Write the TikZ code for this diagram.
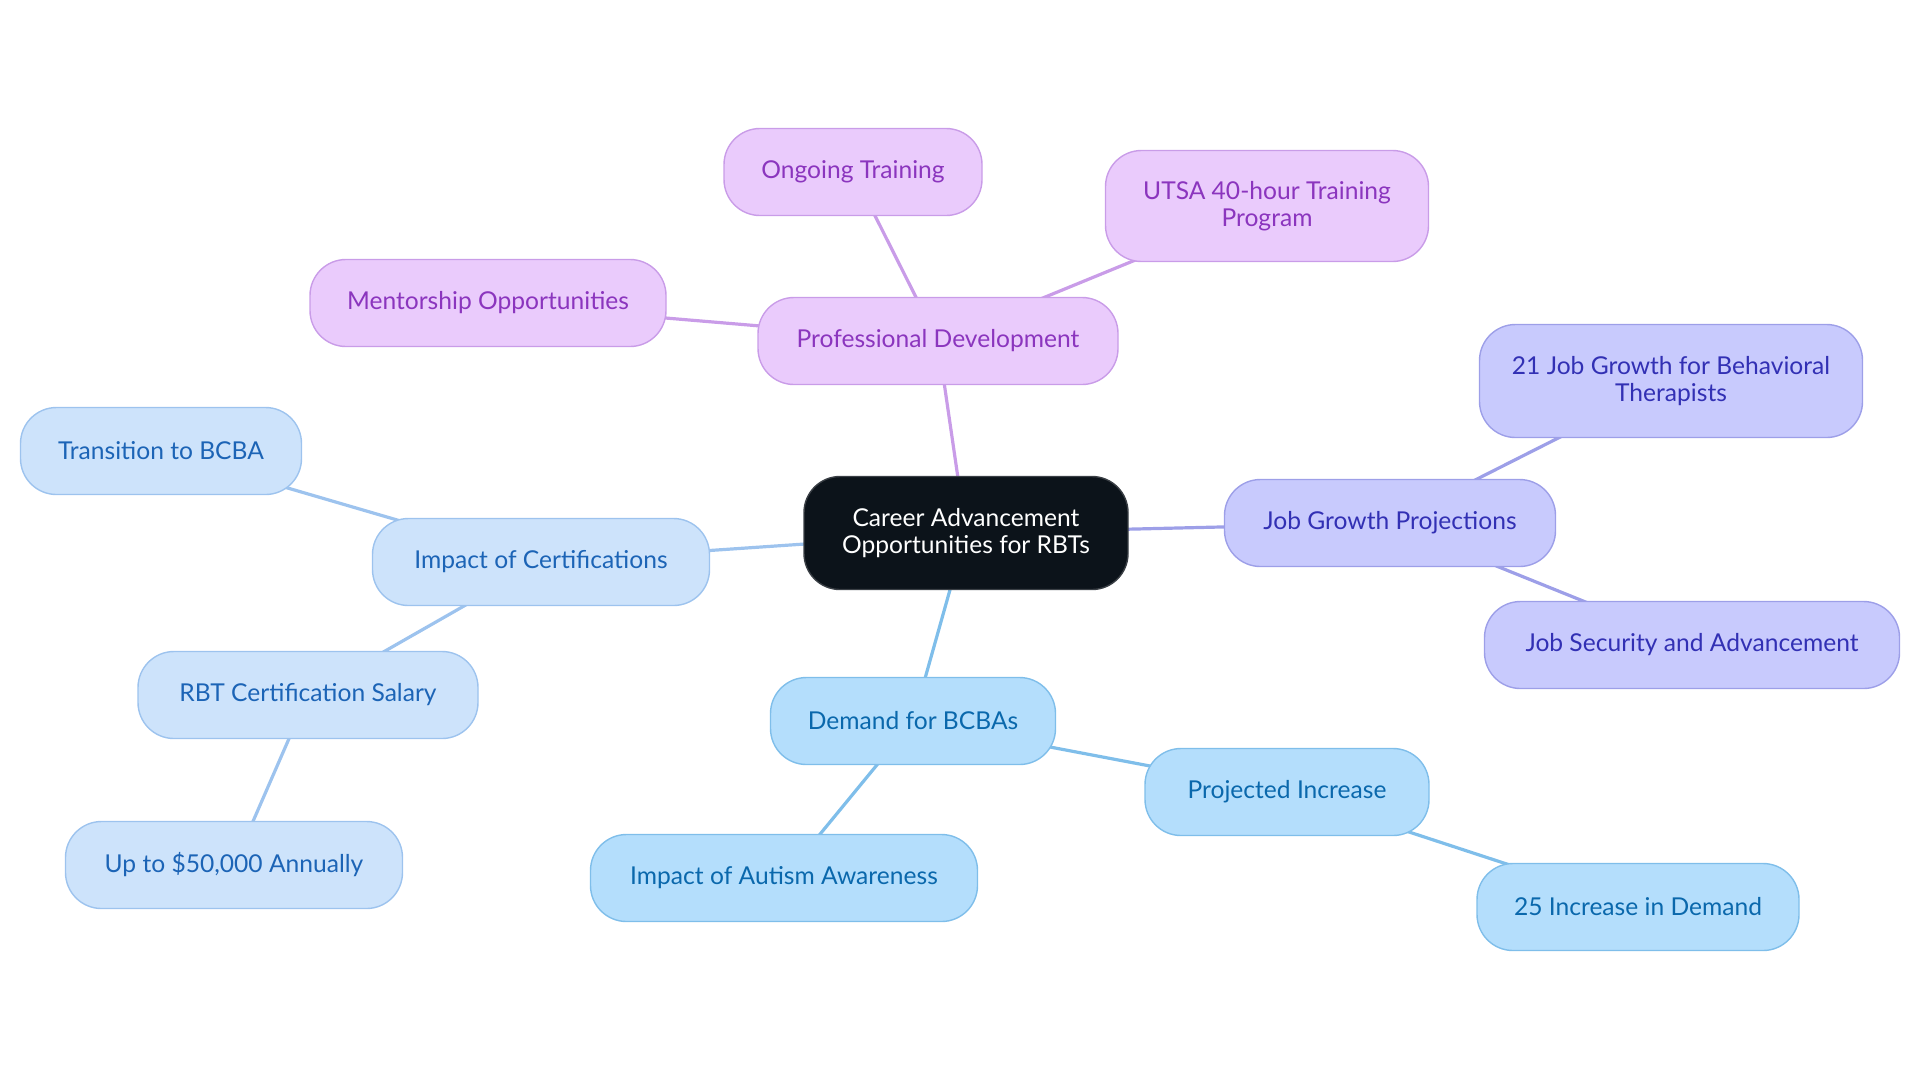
\documentclass[tikz,border=0pt]{standalone}
\usepackage{fontspec}
\setmainfont{Lato}
\usetikzlibrary{positioning,backgrounds}

\definecolor{rootfill}{HTML}{0C131A}
\definecolor{rootdraw}{HTML}{3A3F45}
\definecolor{pdfill}{HTML}{EACBFC}
\definecolor{pddraw}{HTML}{C99CE8}
\definecolor{pdtext}{HTML}{8B35BE}
\definecolor{certfill}{HTML}{CDE3FB}
\definecolor{certdraw}{HTML}{9DC3EE}
\definecolor{certtext}{HTML}{1C64B6}
\definecolor{demfill}{HTML}{B4DEFC}
\definecolor{demdraw}{HTML}{7FBEEA}
\definecolor{demtext}{HTML}{0A68AC}
\definecolor{jobfill}{HTML}{C8CAFD}
\definecolor{jobdraw}{HTML}{9D9FE8}
\definecolor{jobtext}{HTML}{3230B4}

\begin{document}
\begin{tikzpicture}[x=0.5pt,y=-0.5pt,
  box/.style={font=\fontsize{12.3}{13.5}\selectfont,align=center,inner sep=0pt,
    rounded corners=18pt,line width=0.7pt,minimum height=43.5pt},
  rootbox/.style={box,fill=rootfill,draw=rootdraw,text=white},
  pdbox/.style={box,fill=pdfill,draw=pddraw,text=pdtext},
  certbox/.style={box,fill=certfill,draw=certdraw,text=certtext},
  dembox/.style={box,fill=demfill,draw=demdraw,text=demtext},
  jobbox/.style={box,fill=jobfill,draw=jobdraw,text=jobtext},
  link/.style={line width=1.6pt}]
\useasboundingbox (0,0) rectangle (1920,1083);

% centre
\node[rootbox,minimum width=162pt,minimum height=56.5pt] (root) at (966,533)
  {Career Advancement\\Opportunities for RBTs};

% professional development
\node[pdbox,minimum width=180pt] (pd) at (938,341) {Professional Development};
\node[pdbox,minimum width=129pt] (ongoing) at (853,172) {Ongoing Training};
\node[pdbox,minimum width=161.5pt,minimum height=55.5pt] (utsa) at (1267,206)
  {UTSA 40-hour Training\\Program};
\node[pdbox,minimum width=178pt] (mentor) at (488,303) {Mentorship Opportunities};

% certifications
\node[certbox,minimum width=168.5pt] (cert) at (541,562) {Impact of Certifications};
\node[certbox,minimum width=140.5pt] (bcba) at (161,451) {Transition to BCBA};
\node[certbox,minimum width=170pt] (salary) at (308,695) {RBT Certification Salary};
\node[certbox,minimum width=168.5pt] (annual) at (234,865) {Up to \$50,000 Annually};

% demand
\node[dembox,minimum width=142.5pt] (demand) at (913,721) {Demand for BCBAs};
\node[dembox,minimum width=193.5pt] (autism) at (784,878) {Impact of Autism Awareness};
\node[dembox,minimum width=142pt] (proj) at (1287,792) {Projected Increase};
\node[dembox,minimum width=161pt] (incr) at (1638,907) {25 Increase in Demand};

% job growth
\node[jobbox,minimum width=165.5pt] (growth) at (1390,523) {Job Growth Projections};
\node[jobbox,minimum width=191.5pt,minimum height=56.5pt] (therap) at (1671,381)
  {21 Job Growth for Behavioral\\Therapists};
\node[jobbox,minimum width=207.5pt] (secure) at (1692,645) {Job Security and Advancement};

% links, centre to centre behind the boxes
\begin{scope}[on background layer]
\draw[link,pddraw] (root.center) -- (pd.center);
\draw[link,pddraw] (pd.center) -- (ongoing.center);
\draw[link,pddraw] (pd.center) -- (utsa.center);
\draw[link,pddraw] (pd.center) -- (mentor.center);
\draw[link,certdraw] (root.center) -- (cert.center);
\draw[link,certdraw] (cert.center) -- (bcba.center);
\draw[link,certdraw] (cert.center) -- (salary.center);
\draw[link,certdraw] (salary.center) -- (annual.center);
\draw[link,demdraw] (root.center) -- (demand.center);
\draw[link,demdraw] (demand.center) -- (autism.center);
\draw[link,demdraw] (demand.center) -- (proj.center);
\draw[link,demdraw] (proj.center) -- (incr.center);
\draw[link,jobdraw] (root.center) -- (growth.center);
\draw[link,jobdraw] (growth.center) -- (therap.center);
\draw[link,jobdraw] (growth.center) -- (secure.center);
\end{scope}
\end{tikzpicture}
\end{document}
